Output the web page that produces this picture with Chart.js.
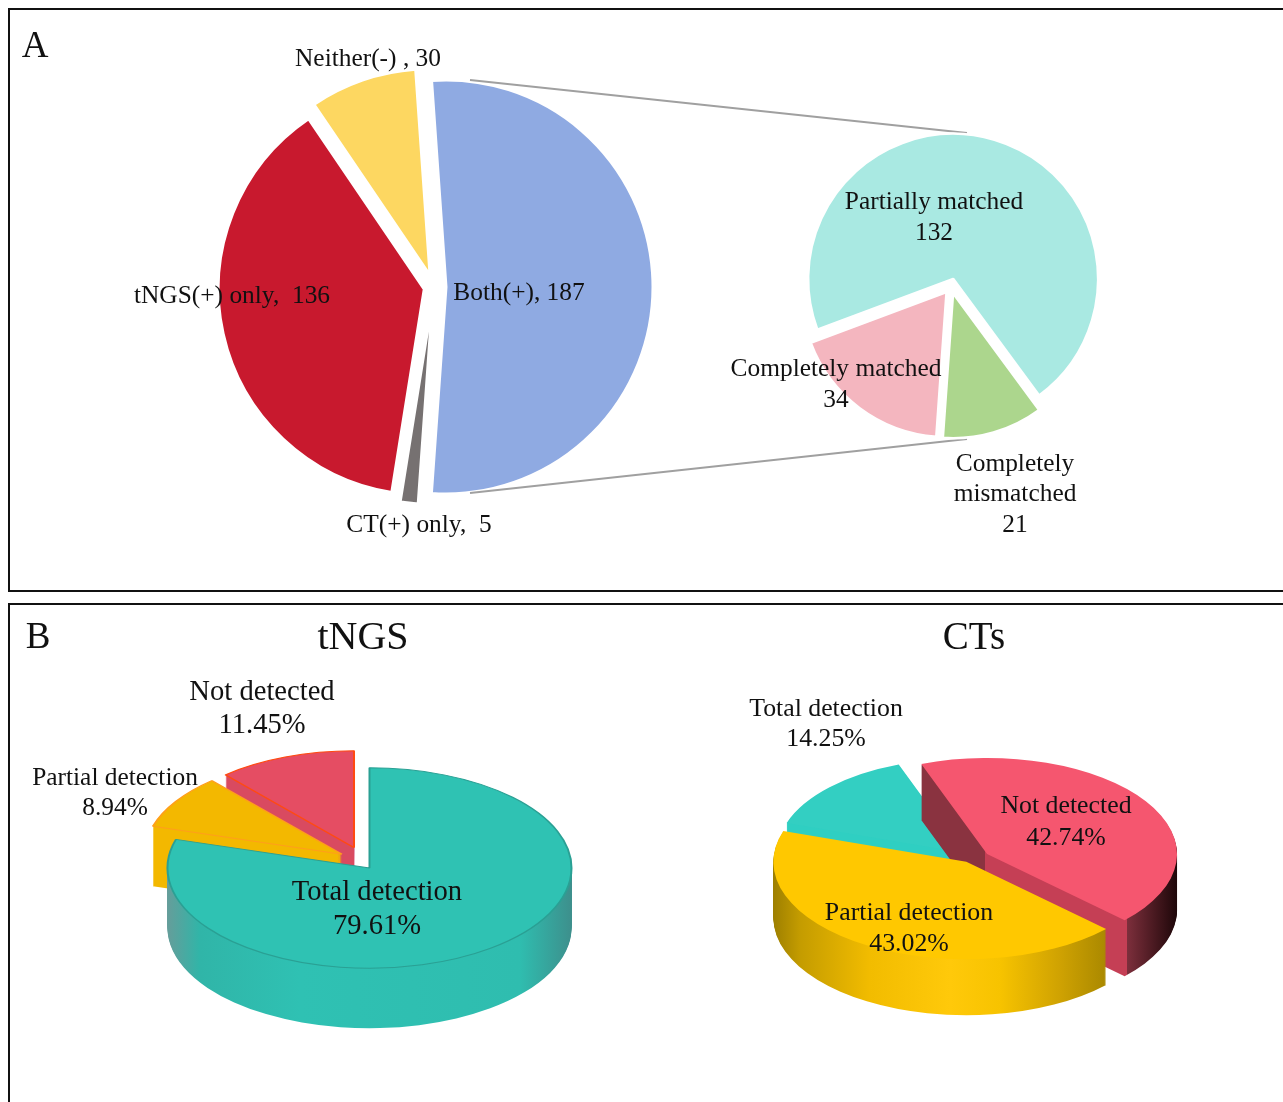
<!DOCTYPE html>
<html>
<head>
<meta charset="utf-8">
<title>tNGS and CT detection</title>
<script src="https://cdn.jsdelivr.net/npm/chart.js@4"></script>
<style>
  html, body { margin: 0; background: #fff; overflow: hidden; width: 1283px; height: 1102px; }
  canvas { position: absolute; left: 0; top: 0; }
  .panel { position: absolute; box-sizing: border-box; border: 2.5px solid #111; }
  #panelA { left: 8px; top: 8px; width: 1300px; height: 584px; }
  #panelB { left: 8px; top: 603px; width: 1300px; height: 600px; }
</style>
</head>
<body>
<div class="panel" id="panelA"></div>
<div class="panel" id="panelB"></div>
<canvas id="mainPie" width="1283" height="1102"></canvas>
<canvas id="subPie" width="1283" height="1102"></canvas>
<canvas id="tngsPie" width="1283" height="1102"></canvas>
<canvas id="ctPie" width="1283" height="1102"></canvas>
<script>
// panel A
const mainCategories = ['Both(+)', 'CT(+) only', 'tNGS(+) only', 'Neither(-)'];
const mainValues = [187, 5, 136, 30];
const subCategories = ['Partially matched', 'Completely mismatched', 'Completely matched'];
const subValues = [132, 21, 34];

// panel B
const tngsCategories = ['Total detection', 'Partial detection', 'Not detected'];
const tngsValues = [79.61, 8.94, 11.45];
const ctCategories = ['Partial detection', 'Total detection', 'Not detected'];
const ctValues = [43.02, 14.25, 42.74];

const SERIF = '"Liberation Serif", "Times New Roman", serif';
const W = 1283, H = 1102;

function slicePlugin(cfg) {
  const k = cfg.squash || 1;
  const depth = cfg.depth || 0;
  const lift = cfg.lift || [];
  return {
    id: 'slices',
    // pull each slice out along its own middle angle, radius can differ per slice
    afterDatasetsUpdate(chart) {
      chart.getDatasetMeta(0).data.forEach((arc, i) => {
        const mid = (arc.startAngle + arc.endAngle) / 2;
        arc.x = cfg.cx + Math.cos(mid) * cfg.dist[i];
        arc.y = cfg.cy + Math.sin(mid) * cfg.dist[i];
        arc.outerRadius = cfg.radii[i];
      });
    },
    beforeDatasetsDraw(chart) {
      const ctx = chart.ctx;
      const arcs = chart.getDatasetMeta(0).data;
      const order = cfg.order || arcs.map((a, i) => i);
      if (cfg.behind) cfg.behind(ctx);
      const at = (arc, dy) => {
        ctx.save();
        ctx.translate(cfg.cx, cfg.cy + dy);
        ctx.scale(1, k);
        ctx.translate(-cfg.cx, -cfg.cy);
        arc.draw(ctx);
        ctx.restore();
      };
      order.forEach(i => {
        const arc = arcs[i];
        const up = lift[i] || 0;
        if (depth) {
          const top = arc.options;
          const stops = cfg.sides[i];
          const xs = stops.map(s => s[0]);
          const x0 = xs[0], x1 = xs[xs.length - 1];
          const grad = ctx.createLinearGradient(x0, 0, x1, 0);
          stops.forEach(s => grad.addColorStop((s[0] - x0) / (x1 - x0 || 1), s[1]));
          arc.options = Object.assign({}, top, { backgroundColor: grad, borderWidth: 0 });
          for (let d = depth; d >= 1; d--) at(arc, d + up);
          arc.options = top;
        }
        at(arc, up);
      });
      return false;
    },
    afterDraw(chart) {
      const ctx = chart.ctx;
      ctx.save();
      ctx.fillStyle = '#111';
      ctx.textBaseline = 'middle';
      cfg.labels.forEach(l => {
        ctx.font = l.size + 'px ' + SERIF;
        ctx.textAlign = 'center';
        l.lines.forEach((t, j) => ctx.fillText(t, l.x, l.ys[j]));
      });
      ctx.restore();
    }
  };
}

function makePie(id, categories, values, cfg) {
  return new Chart(document.getElementById(id), {
    type: 'pie',
    data: {
      labels: categories,
      datasets: [{
        data: values,
        backgroundColor: cfg.colors,
        borderColor: cfg.borderColors,
        borderWidth: cfg.borderWidth,
        radius: Math.max(...cfg.radii),
        clip: false
      }]
    },
    options: {
      responsive: false,
      animation: false,
      events: [],
      rotation: cfg.rotation,
      layout: {
        padding: {
          left: Math.max(0, 2 * cfg.cx - W),
          right: Math.max(0, W - 2 * cfg.cx),
          top: Math.max(0, 2 * cfg.cy - H),
          bottom: Math.max(0, H - 2 * cfg.cy)
        }
      },
      plugins: { legend: { display: false }, tooltip: { enabled: false } }
    },
    plugins: [slicePlugin(cfg)]
  });
}

makePie('mainPie', mainCategories, mainValues, {
  cx: 434, cy: 287, rotation: -4,
  radii: [207, 207, 206, 207],
  dist: [12, 10.5, 10, 12],
  colors: ['#8faae2', '#767171', '#c8192e', '#fdd761'],
  borderColors: '#fff', borderWidth: 3,
  labels: [
    { x: 35, ys: [47], lines: ['A'], size: 37 },
    { x: 368, ys: [59], lines: ['Neither(-) , 30'], size: 25.4 },
    { x: 232, ys: [296], lines: ['tNGS(+) only,  136'], size: 25.4 },
    { x: 519, ys: [293], lines: ['Both(+), 187'], size: 25.4 },
    { x: 419, ys: [525], lines: ['CT(+) only,  5'], size: 25.4 }
  ]
});

makePie('subPie', subCategories, subValues, {
  cx: 951, cy: 286, rotation: 249.5,
  radii: [145, 145, 145],
  dist: [7.5, 7.5, 7.5],
  colors: ['#a9e9e2', '#acd68d', '#f4b6bf'],
  borderColors: '#fff', borderWidth: 2.5,
  // lines joining the blue slice to the small pie
  behind(ctx) {
    ctx.save();
    ctx.strokeStyle = '#a0a0a0';
    ctx.lineWidth = 2;
    ctx.beginPath();
    ctx.moveTo(470, 80); ctx.lineTo(967, 133);
    ctx.moveTo(470, 493); ctx.lineTo(967, 439);
    ctx.stroke();
    ctx.restore();
  },
  labels: [
    { x: 934, ys: [202, 233], lines: ['Partially matched', '132'], size: 25.4 },
    { x: 836, ys: [369, 400], lines: ['Completely matched', '34'], size: 25.4 },
    { x: 1015, ys: [464, 494, 525], lines: ['Completely', 'mismatched', '21'], size: 25.4 }
  ]
});

makePie('tngsPie', tngsCategories, tngsValues, {
  cx: 369.5, cy: 868, rotation: 0, squash: 0.496, depth: 60,
  radii: [202, 197, 195],
  dist: [0, 33, 44],
  lift: [0, -5, 0],
  order: [2, 1, 0],
  colors: ['#2fc2b3', '#f3b800', '#e54d63'],
  borderColors: ['#2aa094', '#ff9f1a', '#ff4a12'], borderWidth: 2,
  sides: [
    [[167, '#669d9a'], [200, '#30b5a8'], [300, '#2fc1b3'], [520, '#2fbdaf'], [572, '#3d8f8c']],
    [[140, '#ffa51a'], [153, '#ffa51a'], [153, '#f3b800'], [360, '#f3b800']],
    [[200, '#d94a60'], [360, '#d94a60']]
  ],
  labels: [
    { x: 38, ys: [638], lines: ['B'], size: 37 },
    { x: 363, ys: [638], lines: ['tNGS'], size: 40 },
    { x: 262, ys: [692, 725], lines: ['Not detected', '11.45%'], size: 28.6 },
    { x: 115, ys: [778, 808], lines: ['Partial detection', '8.94%'], size: 25.4 },
    { x: 377, ys: [892, 926], lines: ['Total detection', '79.61%'], size: 28.6 }
  ]
});

makePie('ctPie', ctCategories, ctValues, {
  cx: 972, cy: 857, rotation: 133.6, squash: 0.505, depth: 56,
  radii: [193, 186, 190],
  dist: [11, 12.4, 18],
  lift: [0, 0, 2],
  order: [1, 2, 0],
  colors: ['#ffc800', '#33cfc2', '#f5566f'],
  borderColors: '#fff', borderWidth: 0,
  sides: [
    [[773, '#9d7f00'], [800, '#c49c00'], [870, '#f2bc00'], [950, '#ffc90a'], [1000, '#f7c300'], [1060, '#cfa202'], [1107, '#a98800']],
    [[780, '#2fcfc2'], [970, '#2fcfc2']],
    [[920, '#8a3340'], [985, '#8a3340'], [985, '#c53f55'], [1127, '#c53f55'], [1127, '#7d2f3c'], [1178, '#1c0608']]
  ],
  labels: [
    { x: 974, ys: [639], lines: ['CTs'], size: 39 },
    { x: 826, ys: [709, 739], lines: ['Total detection', '14.25%'], size: 25.8 },
    { x: 1066, ys: [806, 838], lines: ['Not detected', '42.74%'], size: 25.8 },
    { x: 909, ys: [913, 944], lines: ['Partial detection', '43.02%'], size: 25.8 }
  ]
});
</script>
</body>
</html>
